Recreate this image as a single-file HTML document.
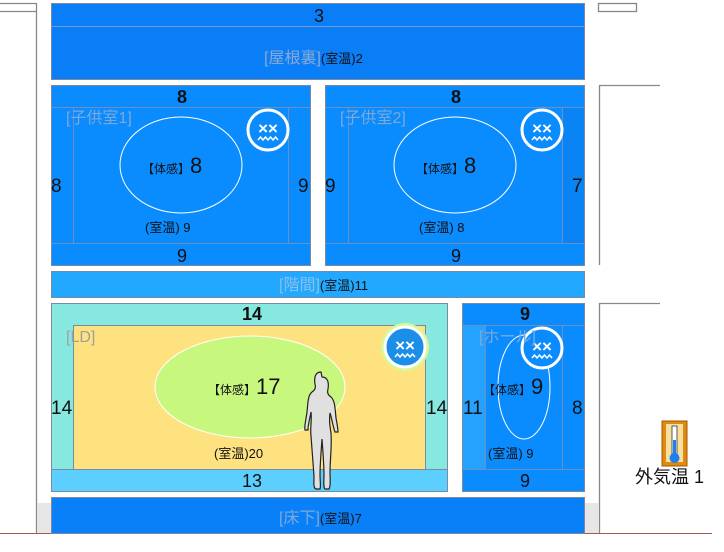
<!DOCTYPE html>
<html><head><meta charset="utf-8"><style>
body{margin:0;width:724px;height:552px;background:#fff;position:relative;overflow:hidden;font-family:"Liberation Sans","Noto Sans CJK JP",sans-serif}
.a{position:absolute;box-sizing:border-box}
.t{position:absolute;font-size:16px;color:#111;line-height:1;white-space:nowrap}
</style></head><body>
<svg width="724" height="552" style="position:absolute;left:0;top:0" xmlns="http://www.w3.org/2000/svg" font-family="Liberation Sans, Noto Sans CJK JP, sans-serif">
<g stroke="#888" fill="none" stroke-width="1.3">
<line x1="0" y1="3.5" x2="36" y2="3.5"/><line x1="0" y1="11.5" x2="36" y2="11.5"/>
<line x1="36.5" y1="3" x2="36.5" y2="533"/>
<rect x="598.5" y="3.5" width="38" height="8"/>
<line x1="599.5" y1="85.5" x2="660" y2="85.5"/><line x1="599.5" y1="85" x2="599.5" y2="265"/>
<line x1="599.5" y1="303.5" x2="660" y2="303.5"/><line x1="599.5" y1="303" x2="599.5" y2="533"/>
</g>
<rect x="37" y="503" width="14" height="30" fill="#e6e6e6"/>
<rect x="584" y="503" width="15" height="30" fill="#e6e6e6"/>
<line x1="0" y1="533.5" x2="712" y2="533.5" stroke="#a05a50" stroke-width="1"/>
<rect x="51.5" y="3.5" width="533" height="76" fill="#0a7ef7" stroke="#7a8aa0"/>
<line x1="51" y1="26.5" x2="584" y2="26.5" stroke="#7a9ad0"/>
<g stroke="#7a8aa0">
<rect x="51.5" y="85.5" width="259" height="180" fill="#0a8cff"/>
<rect x="325.5" y="85.5" width="259" height="180" fill="#0a8cff"/>
</g>
<rect x="562" y="108" width="22" height="135" fill="#0a84f5"/>
<g stroke="#6f8fc0" fill="none">
<line x1="51" y1="107.5" x2="310" y2="107.5"/><line x1="51" y1="243.5" x2="310" y2="243.5"/>
<line x1="73.5" y1="107" x2="73.5" y2="243"/><line x1="288.5" y1="107" x2="288.5" y2="243"/>
<line x1="325" y1="107.5" x2="584" y2="107.5"/><line x1="325" y1="243.5" x2="584" y2="243.5"/>
<line x1="348.5" y1="107" x2="348.5" y2="243"/><line x1="562.5" y1="107" x2="562.5" y2="243"/>
</g>
<ellipse cx="181" cy="165" rx="61" ry="48" fill="none" stroke="#fff" stroke-width="1"/>
<ellipse cx="455" cy="165" rx="61" ry="48" fill="none" stroke="#fff" stroke-width="1"/>
<rect x="51.5" y="271.5" width="533" height="26" fill="#22a8ff" stroke="#7a8aa0"/>
<rect x="51.5" y="303.5" width="396" height="188" fill="#86e8de" stroke="#7a8aa0"/>
<rect x="73.5" y="325.5" width="352" height="144" fill="#ffe280" stroke="#7a8aa0"/>
<rect x="51.5" y="469.5" width="396" height="22" fill="#5ccfff" stroke="#7a8aa0"/>
<ellipse cx="250" cy="387" rx="95" ry="51" fill="#c8f77e" stroke="#fff" stroke-width="1"/>
<rect x="462.5" y="303.5" width="122" height="188" fill="#0a8cff" stroke="#7a8aa0"/>
<rect x="463" y="326" width="22" height="143" fill="#25a2ff"/>
<g stroke="#6f8fc0"><line x1="462" y1="325.5" x2="584" y2="325.5"/><line x1="462" y1="469.5" x2="584" y2="469.5"/>
<line x1="485.5" y1="325" x2="485.5" y2="469"/><line x1="562.5" y1="325" x2="562.5" y2="469"/></g>
<ellipse cx="524" cy="387" rx="26" ry="52" fill="none" stroke="#fff" stroke-width="1"/>
<rect x="51.5" y="497.5" width="533" height="36" fill="#0a80f8" stroke="#7a8aa0"/>
<circle cx="268" cy="130" r="20" fill="#0a8cff" stroke="#fff" stroke-width="3"/>
<circle cx="542" cy="130" r="20" fill="#0a8cff" stroke="#fff" stroke-width="3"/>
<circle cx="405" cy="347" r="24" fill="#d8f79a"/>
<circle cx="405" cy="347" r="20" fill="#1b8ee8" stroke="#fff" stroke-width="3"/>
<circle cx="542" cy="348" r="20" fill="#0a8cff" stroke="#fff" stroke-width="3"/>
<g fill="#fff" font-size="17" font-weight="bold" text-anchor="middle">
<text x="268" y="134">××</text><text x="542" y="134">××</text><text x="405" y="351">××</text><text x="542" y="352">××</text>
</g>
<g stroke="#fff" stroke-width="1.5" fill="none">
<path d="M258 140 l2.5 -3 l2.5 3 l2.5 -3 l2.5 3 l2.5 -3 l2.5 3 l2.5 -3 l2.5 3"/>
<path d="M532 140 l2.5 -3 l2.5 3 l2.5 -3 l2.5 3 l2.5 -3 l2.5 3 l2.5 -3 l2.5 3"/>
<path d="M395 357 l2.5 -3 l2.5 3 l2.5 -3 l2.5 3 l2.5 -3 l2.5 3 l2.5 -3 l2.5 3"/>
<path d="M532 358 l2.5 -3 l2.5 3 l2.5 -3 l2.5 3 l2.5 -3 l2.5 3 l2.5 -3 l2.5 3"/>
</g>
<path d="M321 372 c-6 0 -7 6 -6 12 c1 4 0 6 -3 8 c-4 3 -4 10 -5 20 c-1 8 -3 15 -2 18 l3 0 c0 -6 2 -12 3 -18 c1 8 -1 16 0 24 c1 14 2 28 3 40 c0 6 -1 12 2 13 l4 0 c1 -3 0 -8 0 -14 c0 -10 1 -22 2 -36 c1 14 2 26 2 36 c0 6 -1 12 1 14 l4 0 c2 -3 1 -10 1 -16 c0 -14 2 -26 1 -40 c-1 -6 -2 -12 -1 -20 c2 6 3 14 5 19 l3 0 c0 -4 -1 -8 -2 -14 c-1 -10 -1 -17 -5 -21 c-3 -2 -4 -4 -3 -8 c1 -6 0 -12 -6 -12z" fill="#e0e0e0" stroke="#222" stroke-width="1.2"/>
<rect x="662" y="421" width="25" height="45" fill="#e08a10" stroke="#a05a00"/>
<rect x="666" y="424" width="17" height="38" fill="#f5e0a0"/>
<rect x="672" y="426" width="5" height="30" fill="#fff" stroke="#333" stroke-width="0.8"/>
<rect x="673" y="440" width="3" height="16" fill="#1e7ff0"/>
<circle cx="674.5" cy="458" r="5" fill="#1e7ff0"/>
</svg>
<div class="t" style="left:314px;top:7px;font-size:18px">3</div>
<div class="t" style="left:264px;top:51px;font-size:16px;color:#8aa9d6">[屋根裏]<span style="font-size:13px;color:#111">(室温)2</span></div>
<div class="t" style="left:177px;top:88px;font-size:18px;font-weight:bold">8</div>
<div class="t" style="left:451px;top:88px;font-size:18px;font-weight:bold">8</div>
<div class="t" style="left:66px;top:111px;font-size:16px;color:#7fa8d8">[子供室1]</div>
<div class="t" style="left:340px;top:111px;font-size:16px;color:#7fa8d8">[子供室2]</div>
<div class="t" style="left:142px;top:155px;font-size:12px">【体感】<span style="font-size:22px">8</span></div>
<div class="t" style="left:416px;top:155px;font-size:12px">【体感】<span style="font-size:22px">8</span></div>
<div class="t" style="left:51px;top:177px;font-size:19px">8</div>
<div class="t" style="left:298px;top:177px;font-size:19px">9</div>
<div class="t" style="left:325px;top:177px;font-size:19px">9</div>
<div class="t" style="left:572px;top:177px;font-size:19px">7</div>
<div class="t" style="left:145px;top:221px;font-size:13px">(室温) 9</div>
<div class="t" style="left:419px;top:221px;font-size:13px">(室温) 8</div>
<div class="t" style="left:177px;top:247px;font-size:18px">9</div>
<div class="t" style="left:451px;top:247px;font-size:18px">9</div>
<div class="t" style="left:279px;top:278px;font-size:16px;color:#8ac0ea">[階間]<span style="font-size:13px;color:#111">(室温)11</span></div>
<div class="t" style="left:242px;top:305px;font-size:18px;font-weight:bold">14</div>
<div class="t" style="left:66px;top:330px;font-size:16px;color:#a0a0a0">[LD]</div>
<div class="t" style="left:208px;top:376px;font-size:12px">【体感】<span style="font-size:22px">17</span></div>
<div class="t" style="left:51px;top:399px;font-size:19px">14</div>
<div class="t" style="left:426px;top:399px;font-size:19px">14</div>
<div class="t" style="left:214px;top:447px;font-size:13px">(室温)20</div>
<div class="t" style="left:242px;top:472px;font-size:18px">13</div>
<div class="t" style="left:520px;top:305px;font-size:18px;font-weight:bold">9</div>
<div class="t" style="left:479px;top:330px;font-size:16px;color:#7fa8d8">[ホール]</div>
<div class="t" style="left:483px;top:376px;font-size:12px">【体感】<span style="font-size:22px">9</span></div>
<div class="t" style="left:463px;top:399px;font-size:19px">11</div>
<div class="t" style="left:572px;top:399px;font-size:19px">8</div>
<div class="t" style="left:488px;top:447px;font-size:13px">(室温) 9</div>
<div class="t" style="left:520px;top:472px;font-size:18px">9</div>
<div class="t" style="left:279px;top:511px;font-size:16px;color:#7fa8d8">[床下]<span style="font-size:13px;color:#111">(室温)7</span></div>
<div class="t" style="left:635px;top:468px;font-size:18px">外気温 1</div>
</body></html>
